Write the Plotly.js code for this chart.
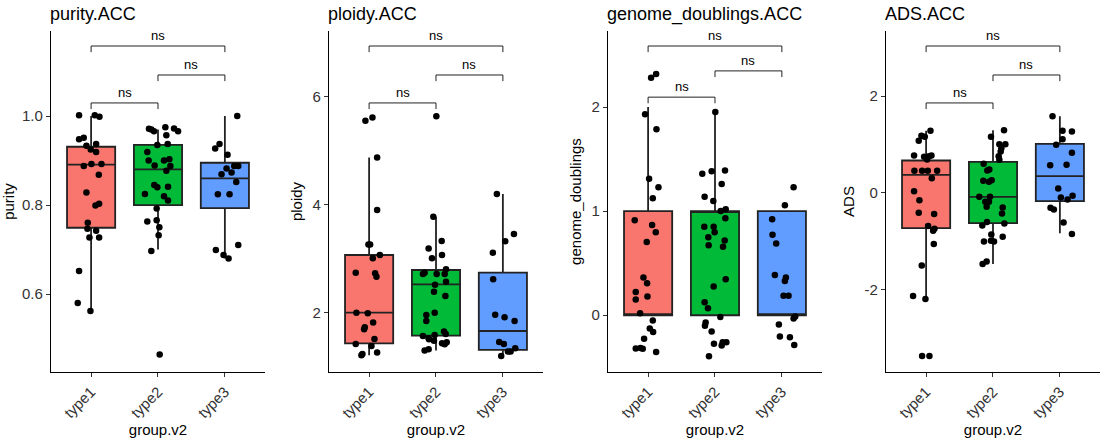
<!DOCTYPE html>
<html>
<head>
<meta charset="utf-8">
<script src="https://cdn.plot.ly/plotly-3.0.1.min.js"></script>
<style>body{margin:0;background:#fff}#chart{width:1101px;height:441px}</style>
</head>
<body>
<div id="chart"></div>
<script>
// categories
const groups = ['type1', 'type2', 'type3'];
const colors = ['#F8766D', '#00BA38', '#619CFF'];

// panel names / y labels
const panels = ['purity', 'ploidy', 'genome_doublings', 'ADS'];

// box stats per panel per group: [lower, q1, median, q3, upper]
const purityBox = [[0.562, 0.749, 0.891, 0.931, 1.0], [0.700, 0.800, 0.880, 0.935, 0.970], [0.680, 0.793, 0.860, 0.895, 1.0]];
const ploidyBox = [[1.21, 1.432, 2.0, 3.068, 4.877], [1.296, 1.574, 2.525, 2.79, 3.778], [1.198, 1.309, 1.66, 2.741, 4.198]];
const gdBox = [[0, 0, 0, 1, 2.0], [0, 0, 1, 1, 1.952], [0, 0, 0, 1, 1]];
const adsBox = [[-2.2, -0.731, 0.372, 0.669, 1.283], [-1.476, -0.628, -0.083, 0.641, 1.297], [-0.84, -0.172, 0.345, 1.014, 1.586]];

// points (values) and jitter offsets
const purity1 = [1.0015, 1.002, 0.9985, 0.948, 0.951, 0.933, 0.937, 0.925, 0.919, 0.888, 0.892, 0.892, 0.868, 0.828, 0.803, 0.799, 0.760, 0.747, 0.742, 0.727, 0.727, 0.652, 0.580, 0.562];
const purity1j = [-0.18, 0.055, 0.125, -0.18, -0.11, -0.07, 0.075, -0.005, 0.075, -0.11, 0.005, 0.155, 0.115, -0.07, 0.12, 0.065, -0.05, -0.055, 0.075, -0.025, 0.12, -0.18, -0.2, -0.01];
const purity2 = [0.9715, 0.970, 0.966, 0.9745, 0.972, 0.966, 0.957, 0.935, 0.937, 0.919, 0.900, 0.889, 0.900, 0.903, 0.888, 0.877, 0.845, 0.840, 0.841, 0.825, 0.820, 0.810, 0.792, 0.763, 0.766, 0.750, 0.732, 0.697, 0.464];
const purity2j = [-0.135, -0.1, -0.06, 0.11, 0.24, 0.3, 0.125, -0.01, 0.145, -0.16, -0.14, -0.05, 0.09, 0.17, 0.185, 0.125, -0.055, -0.01, 0.15, -0.195, 0.09, 0.15, -0.02, -0.16, -0.02, 0.02, 0.01, -0.1, 0.025];
const purity3 = [0.927, 0.937, 1.0, 0.913, 0.882, 0.888, 0.888, 0.869, 0.873, 0.852, 0.824, 0.824, 0.699, 0.688, 0.680, 0.710];
const purity3j = [-0.145, -0.08, 0.185, 0.04, 0.025, 0.14, 0.2, -0.05, 0.1, 0.17, -0.105, 0.07, -0.135, -0.02, 0.055, 0.2];

const ploidy1 = [5.556, 5.617, 4.877, 3.901, 3.265, 3.265, 3.068, 3.006, 2.741, 2.728, 2.667, 2.0, 1.988, 1.815, 1.691, 1.728, 1.512, 1.420, 1.383, 1.235, 1.210, 1.259];
const ploidy1j = [-0.055, 0.05, 0.12, 0.12, -0.01, 0.015, 0.16, 0.055, -0.2, 0.09, 0.11, -0.19, -0.02, 0.06, -0.075, -0.065, 0.08, -0.2, 0.035, -0.1, -0.115, 0.12];
const ploidy2 = [5.642, 3.778, 3.327, 3.191, 3.068, 3.006, 2.741, 2.716, 2.716, 2.716, 2.802, 2.574, 2.519, 2.389, 2.309, 2.0, 1.957, 1.846, 1.568, 1.586, 1.648, 1.605, 1.506, 1.525, 1.432, 1.414, 1.451, 1.296, 1.321, 1.481];
const ploidy2j = [0.005, -0.04, 0.085, -0.11, 0.09, -0.06, -0.17, -0.195, 0.01, 0.13, 0.15, 0.15, -0.015, -0.03, 0.14, -0.02, -0.145, -0.145, -0.195, -0.02, 0.12, 0.145, -0.105, -0.11, 0.09, 0.13, 0.16, -0.17, -0.11, -0.03];
const ploidy3 = [4.198, 3.321, 3.457, 3.111, 2.617, 1.963, 1.914, 1.846, 1.457, 1.420, 1.340, 1.278, 1.278, 1.198];
const ploidy3j = [-0.09, 0.035, 0.165, -0.15, -0.145, -0.115, 0.025, 0.175, -0.055, 0.015, 0.185, 0.075, 0.115, -0.025];

const gd1 = [2.282, 2.317, 1.930, 1.786, 1.312, 1.229, 1.123, 0.912, 0.867, 0.797, 0.704, 0.362, 0.307, 0.224, 0.179, 0.150, 0.019, -0.051, -0.128, -0.16, -0.227, -0.32, -0.323, -0.314, -0.352];
const gd1j = [0.045, 0.12, -0.045, 0.125, 0.015, 0.155, 0.07, -0.2, 0.06, 0.115, -0.02, -0.07, -0.015, -0.185, -0.01, -0.185, -0.12, 0.07, 0.025, 0.075, -0.06, -0.185, -0.08, -0.115, 0.12];
const gd2 = [1.952, 1.36, 1.382, 1.389, 1.261, 1.139, 1.098, 1.002, 1.018, 0.931, 0.851, 0.851, 0.749, 0.797, 0.672, 0.717, 0.659, 0.346, 0.275, 0.125, 0.067, -0.016, -0.07, -0.102, -0.157, -0.275, -0.259, -0.259, -0.291, -0.394];
const gd2j = [0.005, -0.19, -0.05, 0.15, 0.1, -0.155, -0.025, 0.085, 0.16, 0.155, -0.16, -0.02, -0.1, -0.005, -0.095, 0.145, 0.12, 0.16, -0.02, -0.155, -0.105, 0.08, -0.14, -0.15, -0.05, -0.015, 0.115, 0.17, 0.1, -0.09];
const gd3 = [1.229, 1.056, 0.922, 0.774, 0.688, 0.387, 0.33, 0.362, 0.186, 0.186, -0.013, -0.032, -0.09, -0.205, -0.211, -0.285];
const gd3j = [0.175, 0.045, -0.145, -0.14, -0.085, -0.105, 0.045, 0.06, 0.025, 0.1, 0.2, 0.175, -0.045, -0.03, 0.12, 0.185];

const ads1 = [1.283, 1.179, 1.159, 1.076, 0.772, 0.745, 0.772, 0.69, 0.759, 0.455, 0.455, 0.455, 0.455, 0.303, 0.034, -0.152, -0.414, -0.441, -0.69, -0.745, -0.786, -1.062, -1.503, -2.138, -2.2, -3.379, -3.379];
const ads1j = [0.065, -0.07, -0.02, -0.11, -0.18, -0.03, 0.08, 0.015, 0.045, -0.175, -0.06, 0.025, 0.165, 0.085, -0.18, -0.1, -0.11, 0.12, 0.03, 0.125, 0.105, 0.115, -0.065, -0.195, -0.01, -0.06, 0.05];
const ads2 = [1.297, 1.159, 1.007, 1.007, 0.924, 0.855, 0.759, 0.683, 0.6, 0.462, 0.483, 0.262, 0.248, 0.228, -0.083, -0.083, -0.186, -0.186, -0.29, -0.303, -0.428, -0.607, -0.634, -0.676, -0.862, -0.91, -1.007, -1.007, -0.993, -1.421, -1.476];
const ads2j = [0.165, -0.03, 0.095, 0.185, 0.125, 0.115, 0.085, 0.095, -0.14, -0.085, -0.055, -0.02, -0.145, -0.06, -0.205, -0.045, -0.115, -0.06, -0.095, 0.145, 0.135, -0.09, 0.17, -0.16, -0.025, 0.145, -0.135, 0.015, -0.03, -0.095, -0.155];
const ads3 = [1.586, 1.283, 1.269, 1.11, 0.993, 0.828, 0.572, 0.579, 0.09, -0.31, -0.345, -0.097, -0.138, -0.062, -0.614, -0.855];
const ads3j = [-0.11, 0.04, 0.18, 0.04, -0.055, 0.18, -0.145, 0.1, -0.025, -0.14, -0.09, 0.015, 0.115, 0.19, 0.055, 0.18];

const boxes = [purityBox, ploidyBox, gdBox, adsBox];
const points = [[purity1, purity2, purity3], [ploidy1, ploidy2, ploidy3], [gd1, gd2, gd3], [ads1, ads2, ads3]];
const jitters = [[purity1j, purity2j, purity3j], [ploidy1j, ploidy2j, ploidy3j], [gd1j, gd2j, gd3j], [ads1j, ads2j, ads3j]];
const yRanges = [[0.425, 1.191], [0.90, 7.22], [-0.545, 2.73], [-3.71, 3.35]];
const yTicks = [[0.6, 0.8, 1.0], [2, 4, 6], [0, 1, 2], [-2, 0, 2]];
const yTickText = [['0.6', '0.8', '1.0'], ['2', '4', '6'], ['0', '1', '2'], ['-2', '0', '2']];

const xDomains = [[0.0463, 0.2407], [0.2988, 0.4932], [0.5522, 0.7466], [0.8047, 0.9991]];
const yDomain = [0.1565, 0.9297];
// comparisons: [from, to, height in y-domain fraction]
const comps = [[0, 1, 0.789], [1, 2, 0.871], [0, 2, 0.956]];
const compsGd = [[0, 1, 0.806], [1, 2, 0.883], [0, 2, 0.956]];

const font = 'Liberation Sans, Arial, sans-serif';
const traces = [];
const layout = {
  width: 1101, height: 441,
  margin: {l: 0, r: 0, t: 0, b: 0},
  paper_bgcolor: '#fff', plot_bgcolor: '#fff',
  showlegend: false,
  font: {family: font, color: '#000'},
  shapes: [], annotations: []
};

panels.forEach((name, p) => {
  const sfx = p === 0 ? '' : String(p + 1);
  const xa = 'x' + sfx, ya = 'y' + sfx;

  groups.forEach((g, i) => {
    const b = boxes[p][i];
    traces.push({
      type: 'box', x: [i], xaxis: xa, yaxis: ya,
      lowerfence: [b[0]], q1: [b[1]], median: [b[2]], q3: [b[3]], upperfence: [b[4]],
      width: 0.72, fillcolor: colors[i],
      line: {color: '#222', width: 1.8},
      whiskerwidth: 0, hoverinfo: 'skip'
    });
    traces.push({
      type: 'scatter', mode: 'markers', xaxis: xa, yaxis: ya,
      x: jitters[p][i].map(d => i + d), y: points[p][i],
      marker: {color: '#000', size: 6.5}, hoverinfo: 'skip'
    });
  });

  layout['xaxis' + sfx] = {
    domain: xDomains[p], anchor: ya, range: [-0.6, 2.6],
    tickvals: [0, 1, 2], ticktext: groups, tickangle: -45,
    showline: true, linecolor: '#000', linewidth: 1.2,
    ticks: 'outside', ticklen: 4, tickcolor: '#333',
    showgrid: false, zeroline: false,
    tickfont: {size: 15, color: '#333'},
    title: {text: 'group.v2', font: {size: 15}, standoff: 2}
  };
  layout['yaxis' + sfx] = {
    domain: yDomain, anchor: xa, range: yRanges[p],
    tickvals: yTicks[p], ticktext: yTickText[p],
    showline: true, linecolor: '#000', linewidth: 1.2,
    ticks: 'outside', ticklen: 4, tickcolor: '#333',
    showgrid: false, zeroline: false,
    tickfont: {size: 15, color: '#333'},
    title: {text: name, font: {size: 15}, standoff: 6}
  };

  layout.annotations.push({
    xref: 'paper', yref: 'paper', x: xDomains[p][0] - 0.003, y: 0.968,
    xanchor: 'left', yanchor: 'middle', showarrow: false,
    text: name + '.ACC', font: {size: 18, color: '#000'}
  });

  const cs = p === 2 ? compsGd : comps;
  const tip = 0.018;
  cs.forEach(c => {
    const [a, bb, h] = c;
    layout.shapes.push({
      type: 'path', xref: xa, yref: ya + ' domain',
      path: `M ${a},${h - tip} L ${a},${h} L ${bb},${h} L ${bb},${h - tip}`,
      line: {color: '#222', width: 1}
    });
    layout.annotations.push({
      xref: xa, yref: ya + ' domain', x: (a + bb) / 2, y: h + 0.004,
      yanchor: 'bottom', showarrow: false, text: 'ns',
      font: {size: 13, color: '#000'}
    });
  });
});

Plotly.newPlot('chart', traces, layout, {staticPlot: true});
</script>
</body>
</html>
